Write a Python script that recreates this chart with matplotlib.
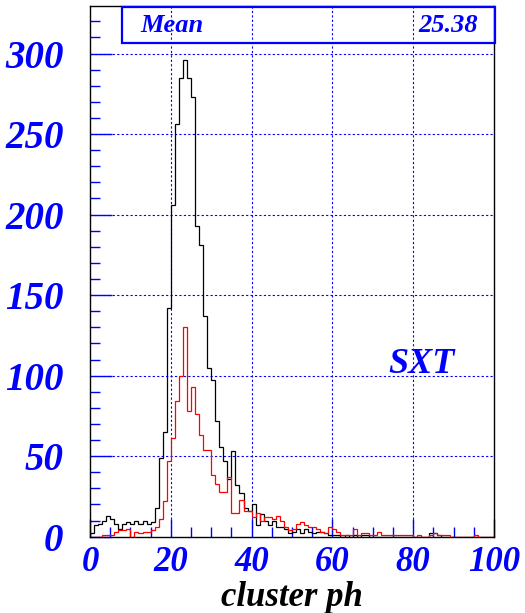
import numpy as np
import matplotlib
matplotlib.use("Agg")
import matplotlib.pyplot as plt
from matplotlib.patches import Rectangle
from matplotlib.ticker import MultipleLocator

# ---- data (1-unit bins from 0 to 100) ----
bin_edges = list(range(0, 101))
black_counts = [
    2, 7, 8, 10, 13, 11, 8, 5, 8, 9,
    8, 10, 8, 10, 8, 9, 18, 49, 65, 142,
    206, 256, 285, 296, 285, 273, 193, 181, 137, 105,
    97, 72, 56, 47, 36, 53, 32, 27, 18, 16,
    20, 7, 14, 10, 7, 10, 6, 6, 5, 2,
    3, 5, 2, 5, 3, 2, 3, 3, 2, 1,
    1, 1, 0, 1, 0, 1, 0, 1, 1, 0,
    0, 0, 0, 0, 0, 0, 0, 0, 0, 0,
    0, 0, 0, 0, 2, 2, 1, 0, 0, 0,
    0, 0, 0, 0, 0, 0, 0, 0, 0, 0,
]
red_counts = [
    0, 0, 0, 1, 1, 1, 3, 4, 4, 5,
    0, 3, 2, 3, 3, 4, 6, 11, 22, 47,
    61, 84, 100, 130, 78, 93, 76, 63, 54, 54,
    38, 33, 28, 28, 37, 15, 15, 23, 16, 16,
    12, 15, 10, 12, 12, 11, 13, 10, 6, 4,
    5, 8, 9, 7, 6, 6, 5, 3, 2, 6,
    5, 3, 1, 1, 1, 5, 1, 2, 2, 1,
    1, 3, 1, 1, 1, 1, 1, 1, 1, 1,
    0, 1, 0, 0, 1, 2, 1, 1, 1, 0,
    0, 0, 0, 0, 0, 1, 0, 0, 0, 0,
]
x_ticks = [0, 20, 40, 60, 80, 100]
y_ticks = [0, 50, 100, 150, 200, 250, 300]
stat_label = "Mean"
stat_value = "25.38"
panel_label = "SXT"
x_title = "cluster ph"

BLUE = "#0000ff"
FONT = "Liberation Serif"

W, H = 525, 613
fig = plt.figure(figsize=(W / 100, H / 100), dpi=100)
left, right, top, bottom = 90, 494, 6, 536.7
ax = fig.add_axes([left / W, 1 - bottom / H, (right - left) / W, (bottom - top) / H])

ax.set_xlim(0, 100)
ax.set_ylim(0, 329.5)

# grid
for xv in x_ticks[1:-1]:
    ax.axvline(xv, color=BLUE, lw=0.8, ls=(0, (2, 2)), zorder=1)
for yv in y_ticks[1:]:
    ax.axhline(yv, color=BLUE, lw=0.8, ls=(0, (2, 2)), zorder=1)

ax.stairs(black_counts, bin_edges, color="black", lw=0.9, zorder=3)
ax.stairs(red_counts, bin_edges, color="red", lw=0.9, zorder=4)

ax.set_xticks(x_ticks)
ax.set_yticks(y_ticks)
ax.xaxis.set_minor_locator(MultipleLocator(5))
ax.yaxis.set_minor_locator(MultipleLocator(10))
ax.tick_params(axis="both", which="both", direction="in", color=BLUE, width=1.0,
               top=False, right=False)
ax.tick_params(axis="y", which="major", length=15.5, pad=19)
ax.tick_params(axis="y", which="minor", length=7)
ax.tick_params(axis="x", which="major", length=13, pad=7)
ax.tick_params(axis="x", which="minor", length=7)

for lab in ax.get_yticklabels():
    lab.set_fontfamily(FONT)
    lab.set_fontweight("bold")
    lab.set_fontstyle("italic")
    lab.set_fontsize(28)
    lab.set_color(BLUE)
for lab in ax.get_xticklabels():
    lab.set_fontfamily(FONT)
    lab.set_fontweight("bold")
    lab.set_fontstyle("italic")
    lab.set_fontsize(25)
    lab.set_color(BLUE)

for sp in ax.spines.values():
    sp.set_color("black")
    sp.set_linewidth(1.0)

# x title
fig.text(292 / W, 1 - 597.5 / H, x_title, fontfamily=FONT, fontweight="bold",
         fontstyle="italic", fontsize=25, color="black", ha="center", va="center")

# stat box
bx0, bx1, by0, by1 = 122, 495, 7, 43
box = Rectangle((bx0 / W, 1 - by1 / H), (bx1 - bx0) / W, (by1 - by0) / H,
                transform=fig.transFigure, fill=False, edgecolor=BLUE, lw=1.6, zorder=10)
fig.patches.append(box)
fig.text(140 / W, 1 - 26 / H, stat_label, fontfamily=FONT, fontweight="bold",
         fontstyle="italic", fontsize=19, color=BLUE, ha="left", va="center")
fig.text(478 / W, 1 - 26 / H, stat_value, fontfamily=FONT, fontweight="bold",
         fontstyle="italic", fontsize=19, color=BLUE, ha="right", va="center")

# panel label
ax.text(73.8, 107, panel_label, fontfamily=FONT, fontweight="bold",
        fontstyle="italic", fontsize=26, color=BLUE, ha="left", va="center")

fig.savefig("out.png", dpi=100)
